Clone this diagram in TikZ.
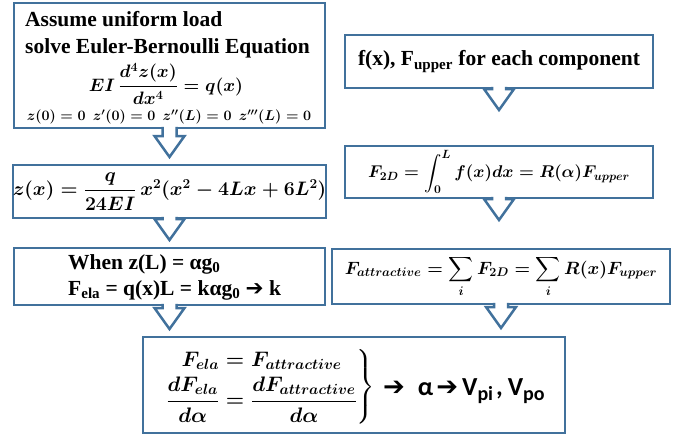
\documentclass[tikz,border=0pt]{standalone}
\usepackage{fix-cm}
\usepackage{amsmath}
\usepackage{fontspec}
\setmainfont{Liberation Serif}
\newfontfamily\calfont{Carlito}
\newfontfamily\dingfont{DejaVu Sans}
\usetikzlibrary{calc}
\definecolor{boxblue}{RGB}{65,113,156}

\newcommand{\headfont}{\fontsize{21.5}{27}\selectfont\bfseries}
\newcommand{\hvarrow}{{\dingfont\mdseries ➔}}
\newcommand{\sansub}[1]{\raisebox{-0.2em}{\fontsize{20}{20}\selectfont #1}}
% hollow block arrow hanging below a box: #1 = box, #2 = length
\newcommand{\hollowdown}[2]{%
  \filldraw[blockarr] ($(#1.south)+(-7,-1.25)$) -- ($(#1.south)+(-7,#2-21)$)
    -- ($(#1.south)+(-15,#2-21)$) -- ($(#1.south)+(0,#2)$)
    -- ($(#1.south)+(15,#2-21)$) -- ($(#1.south)+(7,#2-21)$)
    -- ($(#1.south)+(7,-1.25)$);}

\begin{document}
\begin{tikzpicture}[x=1pt, y=-1pt,
  box/.style={draw=boxblue, line width=2.5pt, fill=white, inner sep=0pt, outer sep=0pt},
  head/.style={font=\headfont, inner sep=0pt, anchor=base west},
  eqn/.style={font=\fontsize{#1}{#1}\selectfont\boldmath, inner sep=0pt},
  blockarr/.style={draw=boxblue, line width=2.5pt, fill=white, line join=miter}
]
\useasboundingbox (0,0) rectangle (686,439);

% left column
\node[box, minimum width=311pt, minimum height=125pt] (euler) at (169.5,65.5) {};
\node[head] (assume) at (25,26) {Assume uniform load};
\node[head] (solve) at (25,53) {solve Euler-Bernoulli Equation};
\node[eqn=18] (ebeq) at (166,84) {$EI\,\dfrac{d^4z(x)}{dx^4} = q(x)$};
\node[eqn=14.3] (bc) at (169,117) {$z(0)=0\enspace z'(0)=0\enspace z''(L)=0\enspace z'''(L)=0$};

\node[box, minimum width=311pt, minimum height=53pt, eqn=19.5] (zx) at (169.5,191.5)
  {$z(x) = \dfrac{q}{24EI}\,x^2(x^2-4Lx+6L^2)$};

\node[box, minimum width=311pt, minimum height=57pt] (when) at (169.5,276.5) {};
\node[head] (whentxt) at (68,269) {When z(L) = αg\textsubscript{0}};
\node[head] (felatxt) at (68,295) {F\textsubscript{ela} = q(x)L = kαg\textsubscript{0} \hvarrow{} k};

% right column
\node[box, minimum width=308pt, minimum height=53pt, font=\headfont] (fupper) at (499,61.5)
  {f(x), F\textsubscript{upper} for each component};
\node[box, minimum width=308pt, minimum height=52pt, eqn=17] (ftwod) at (499,172)
  {$\displaystyle F_{2D} = \int_0^L f(x)dx = R(\alpha)F_{upper}$};
\node[box, minimum width=338pt, minimum height=55pt, eqn=17.8] (fattr) at (501,276.5)
  {$\displaystyle F_{attractive} = \sum_i F_{2D} = \sum_i R(x)F_{upper}$};

% result
\node[box, minimum width=422pt, minimum height=96pt] (result) at (354,385) {};
\node[eqn=21, anchor=west] (balance) at (165,387)
  {$\left.\begin{aligned} F_{ela} &= F_{attractive}\\
   \frac{dF_{ela}}{d\alpha} &= \frac{dF_{attractive}}{d\alpha}\end{aligned}\right\}$};
\node[anchor=base west, inner sep=0pt, font=\calfont\bfseries\fontsize{26}{26}\selectfont]
  (volts) at (383,395) {\hvarrow\hspace{13pt}α\hspace{3pt}\hvarrow\hspace{4pt}V\sansub{pi}\hspace{3pt},\hspace{5pt}V\sansub{po}};

\hollowdown{euler}{29}
\hollowdown{zx}{22}
\hollowdown{when}{24}
\hollowdown{fupper}{22}
\hollowdown{ftwod}{22}
\hollowdown{fattr}{24}
\end{tikzpicture}
\end{document}
